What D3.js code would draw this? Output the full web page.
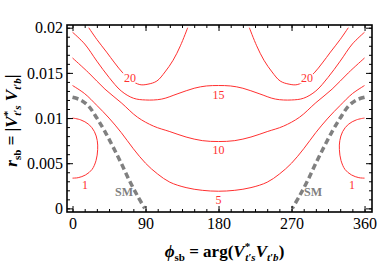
<!DOCTYPE html>
<html>
<head>
<meta charset="UTF-8">
<title>r_sb vs phi_sb contours</title>
<style>
  body { margin: 0; background: #fff; }
</style>
</head>
<body>
<script src="https://d3js.org/d3.v7.min.js"></script>
<script>

  // ticks
  var phiTicks = [0, 90, 180, 270, 360];
  var phiMinor = d3.range(0, 361, 15);
  var rTicks = [0, 0.005, 0.01, 0.015, 0.02];
  var rTickLabels = ["0", "0.005", "0.01", "0.015", "0.02"];
  var rMinor = d3.range(0, 0.0201, 0.001);

  // contour lines, [phi, r]; right half is the mirror (360 - phi)
  var contour20 = [[20, 0.0200], [30, 0.0187], [42, 0.0173], [52, 0.0161], [62, 0.0150], [72, 0.0142],
    [83, 0.0137], [93, 0.01375], [104, 0.0141], [114, 0.0151], [124, 0.0164], [133, 0.0180], [142, 0.0200]];
  var contour15 = [[0, 0.0195], [15, 0.0182], [30, 0.0163], [45, 0.0145], [60, 0.0130], [75, 0.0122],
    [90, 0.0120], [110, 0.0121], [130, 0.0127], [150, 0.0133], [165, 0.01355], [180, 0.0136]];
  var contour10 = [[0, 0.01665], [20, 0.0150], [40, 0.0132], [60, 0.0117], [80, 0.0101], [100, 0.0091],
    [120, 0.0085], [140, 0.0079], [160, 0.0075], [180, 0.0074]];
  var contour5 = [[0, 0.0136], [15, 0.0127], [30, 0.0114], [45, 0.0100], [60, 0.0084], [75, 0.0066],
    [90, 0.0050], [105, 0.0038], [120, 0.0029], [140, 0.0023], [160, 0.0020], [180, 0.0019]];
  var contour1 = [[0, 0.0100], [10, 0.0098], [20, 0.0093], [27, 0.0085], [30.5, 0.0075], [31, 0.0065],
    [29, 0.0053], [24, 0.0043], [16, 0.0037], [7, 0.0034], [0, 0.00335]];
  var smCurve = [[0, 0.0123], [10, 0.0120], [20, 0.0113], [30, 0.0100], [40, 0.0085], [50, 0.0068],
    [60, 0.0050], [70, 0.0031], [80, 0.0014], [89, 0]];

  // contour labels [text, phi, r]
  var contourLabels = [["20", 71, 0.01443], ["20", 289, 0.01443], ["15", 180, 0.01255],
    ["10", 180, 0.00646], ["5", 180, 0.00093], ["1", 15.4, 0.00259], ["1", 344.6, 0.00259]];
  var smLabels = [["SM", 63.5, 0.00182], ["SM", 296.5, 0.00182]];

  function mirror(pts) {
    return pts.map(function(p) { return [360 - p[0], p[1]]; });
  }

  var margin = { top: 25, right: 10, bottom: 52, left: 67 };
  var width = 382 - margin.left - margin.right,
    height = 264 - margin.top - margin.bottom;

  var svg = d3.select("body")
    .append("svg")
    .attr("width", width + margin.left + margin.right)
    .attr("height", height + margin.top + margin.bottom)
    .append("g")
    .attr("transform", "translate(" + margin.left + "," + margin.top + ")");

  var x = d3.scaleLinear().domain([-6.8, 369.2]).range([0, width]);
  var y = d3.scaleLinear().domain([-0.0004, 0.0203]).range([height, 0]);

  var line = d3.line()
    .x(function(d) { return x(d[0]); })
    .y(function(d) { return y(d[1]); })
    .curve(d3.curveCatmullRom.alpha(0.5));

  var red = "#ff3030";
  var serif = "'Liberation Serif', 'DejaVu Serif', serif";

  // contours
  var lines = [contour20, mirror(contour20), contour15.concat(mirror(contour15).reverse().slice(1)),
    contour10.concat(mirror(contour10).reverse().slice(1)),
    contour5.concat(mirror(contour5).reverse().slice(1)),
    contour1, mirror(contour1)];

  svg.selectAll("path.contour")
    .data(lines)
    .enter()
    .append("path")
    .attr("class", "contour")
    .attr("d", line)
    .attr("fill", "none")
    .attr("stroke", red)
    .attr("stroke-width", 1);

  svg.selectAll("path.sm")
    .data([smCurve, mirror(smCurve)])
    .enter()
    .append("path")
    .attr("class", "sm")
    .attr("d", line)
    .attr("fill", "none")
    .attr("stroke", "#808080")
    .attr("stroke-width", 3.5)
    .attr("stroke-dasharray", "6,3.5");

  svg.selectAll("text.clabel")
    .data(contourLabels)
    .enter()
    .append("text")
    .attr("class", "clabel")
    .attr("x", function(d) { return x(d[1]); })
    .attr("y", function(d) { return y(d[2]); })
    .attr("dy", "0.35em")
    .attr("text-anchor", "middle")
    .attr("font-family", serif)
    .attr("font-size", 12)
    .attr("fill", red)
    .attr("stroke", "#fff")
    .attr("stroke-width", 3)
    .attr("paint-order", "stroke")
    .text(function(d) { return d[0]; });

  svg.selectAll("text.smlabel")
    .data(smLabels)
    .enter()
    .append("text")
    .attr("class", "smlabel")
    .attr("x", function(d) { return x(d[1]); })
    .attr("y", function(d) { return y(d[2]); })
    .attr("dy", "0.35em")
    .attr("text-anchor", "middle")
    .attr("font-family", serif)
    .attr("font-weight", "bold")
    .attr("font-size", 12)
    .attr("fill", "#808080")
    .text(function(d) { return d[0]; });

  // axes: ticks pointing inward on all four sides
  function styleAxis(g) {
    g.select(".domain").remove();
    g.selectAll(".tick line").attr("stroke", "#000").attr("stroke-width", 1);
    g.selectAll(".tick text").attr("font-family", serif).attr("font-size", 16).attr("fill", "#000");
  }

  svg.append("g")
    .attr("transform", "translate(0," + height + ")")
    .call(d3.axisBottom(x).tickValues(phiTicks).tickSize(-6).tickPadding(6))
    .call(styleAxis);
  svg.append("g")
    .attr("transform", "translate(0," + height + ")")
    .call(d3.axisBottom(x).tickValues(phiMinor).tickSize(-3).tickFormat(""))
    .call(styleAxis);
  svg.append("g")
    .call(d3.axisTop(x).tickValues(phiTicks).tickSize(-6).tickFormat(""))
    .call(styleAxis);
  svg.append("g")
    .call(d3.axisTop(x).tickValues(phiMinor).tickSize(-3).tickFormat(""))
    .call(styleAxis);

  svg.append("g")
    .call(d3.axisLeft(y).tickValues(rTicks).tickSize(-6).tickPadding(4)
      .tickFormat(function(d, i) { return rTickLabels[i]; }))
    .call(styleAxis);
  svg.append("g")
    .call(d3.axisLeft(y).tickValues(rMinor).tickSize(-3).tickFormat(""))
    .call(styleAxis);
  svg.append("g")
    .attr("transform", "translate(" + width + ",0)")
    .call(d3.axisRight(y).tickValues(rTicks).tickSize(-6).tickFormat(""))
    .call(styleAxis);
  svg.append("g")
    .attr("transform", "translate(" + width + ",0)")
    .call(d3.axisRight(y).tickValues(rMinor).tickSize(-3).tickFormat(""))
    .call(styleAxis);

  svg.append("rect")
    .attr("width", width)
    .attr("height", height)
    .attr("fill", "none")
    .attr("stroke", "#000")
    .attr("stroke-width", 1.6);

  // x title: phi_sb = arg(V*_t's V_t'b)
  var xt = svg.append("text")
    .attr("x", width / 2 + 5)
    .attr("y", height + 45)
    .attr("text-anchor", "middle")
    .attr("font-family", serif)
    .attr("font-weight", "bold")
    .attr("font-size", 17);
  xt.append("tspan").attr("font-style", "italic").text("\u03d5");
  xt.append("tspan").attr("font-size", 11).attr("dy", 4).text("sb");
  xt.append("tspan").attr("dy", -4).text(" = arg(");
  xt.append("tspan").attr("font-style", "italic").text("V");
  xt.append("tspan").attr("font-size", 11).attr("dy", -7).text("*");
  xt.append("tspan").attr("font-size", 11).attr("font-style", "italic").attr("dx", -5).attr("dy", 11).text("t\u2032s");
  xt.append("tspan").attr("font-style", "italic").attr("dy", -4).text("V");
  xt.append("tspan").attr("font-size", 11).attr("font-style", "italic").attr("dy", 4).text("t\u2032b");
  xt.append("tspan").attr("dy", -4).text(")");

  // y title: r_sb = |V*_t's V_t'b|
  var yt = svg.append("text")
    .attr("transform", "translate(" + (-50) + "," + (height / 2 + 2) + ") rotate(-90)")
    .attr("text-anchor", "middle")
    .attr("font-family", serif)
    .attr("font-weight", "bold")
    .attr("font-size", 17);
  yt.append("tspan").attr("font-style", "italic").text("r");
  yt.append("tspan").attr("font-size", 11).attr("dy", 4).text("sb");
  yt.append("tspan").attr("dy", -4).text(" = |");
  yt.append("tspan").attr("font-style", "italic").text("V");
  yt.append("tspan").attr("font-size", 11).attr("dy", -6).text("*");
  yt.append("tspan").attr("font-size", 11).attr("font-style", "italic").attr("dx", -5).attr("dy", 10).text("t\u2032s");
  yt.append("tspan").attr("font-style", "italic").attr("dy", -4).text(" V");
  yt.append("tspan").attr("font-size", 11).attr("font-style", "italic").attr("dy", 4).text("t\u2032b");
  yt.append("tspan").attr("dy", -4).text("|");

</script>
</body>
</html>
